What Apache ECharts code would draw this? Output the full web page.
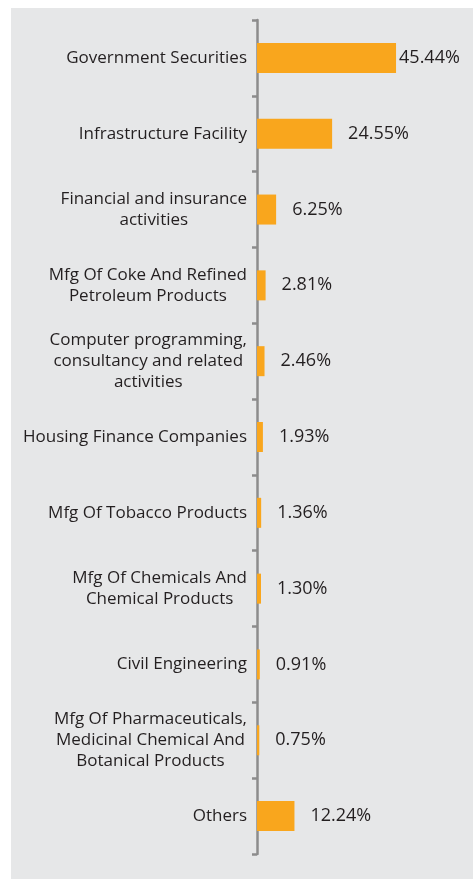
<!DOCTYPE html>
<html>
<head>
<meta charset="utf-8">
<script src="https://cdn.jsdelivr.net/npm/echarts@6/dist/echarts.min.js"></script>
<style>
html, body { margin: 0; padding: 0; background: #fff; }
#SectorChart {
    position: absolute;
    left: 11px;
    top: 8px;
    width: 462px;
    height: 871px;
    background: #e6e7e8;
}
</style>
</head>
<body>
<div id="SectorChart"></div>
<script>
const sectorList = [
    'Government Securities',
    'Infrastructure Facility',
    'Financial and insurance\nactivities',
    'Mfg Of Coke And Refined\nPetroleum Products',
    'Computer programming,\nconsultancy and related\nactivities',
    'Housing Finance Companies',
    'Mfg Of Tobacco Products',
    'Mfg Of Chemicals And\nChemical Products',
    'Civil Engineering',
    'Mfg Of Pharmaceuticals,\nMedicinal Chemical And\nBotanical Products',
    'Others'
];
const weightList = [45.44, 24.55, 6.25, 2.81, 2.46, 1.93, 1.36, 1.30, 0.91, 0.75, 12.24];

const textColor = '#231f20';
const barColor = '#f9a61d';

let seriesData = [];
for (let i = 0; i < weightList.length; i++) {
    let item = { value: weightList[i] };
    if (i === 0) {
        // label would run off the edge, keep it close to the bar
        item.label = { distance: 3 };
    }
    seriesData.push(item);
}

const chart = echarts.init(document.getElementById('SectorChart'));
chart.setOption({
    animation: false,
    grid: {
        left: 246,
        top: 12,
        bottom: 25,
        right: 63
    },
    xAxis: {
        type: 'value',
        min: 0,
        max: 50,
        show: false
    },
    yAxis: {
        type: 'category',
        inverse: true,
        data: sectorList,
        axisLine: {
            show: true,
            lineStyle: { color: '#8c8c8c', width: 2.5 }
        },
        axisTick: {
            show: true,
            length: 5,
            lineStyle: { color: '#8c8c8c', width: 2.5 }
        },
        axisLabel: {
            color: textColor,
            fontFamily: 'Open Sans',
            fontSize: 17,
            lineHeight: 21,
            align: 'right',
            margin: 10,
            formatter: function (v) {
                return v.split('\n').map(function (s) { return '{c|' + s + '}'; }).join('\n');
            },
            rich: {
                c: {
                    align: 'center',
                    color: textColor,
                    fontFamily: 'Open Sans',
                    fontSize: 17,
                    lineHeight: 21
                }
            }
        }
    },
    series: [{
        type: 'bar',
        data: seriesData,
        barWidth: 30,
        itemStyle: { color: barColor },
        label: {
            show: true,
            position: 'right',
            distance: 16,
            color: textColor,
            fontFamily: 'Open Sans',
            fontSize: 18,
            formatter: function (p) { return p.value.toFixed(2) + '%'; }
        }
    }]
});
</script>
</body>
</html>
